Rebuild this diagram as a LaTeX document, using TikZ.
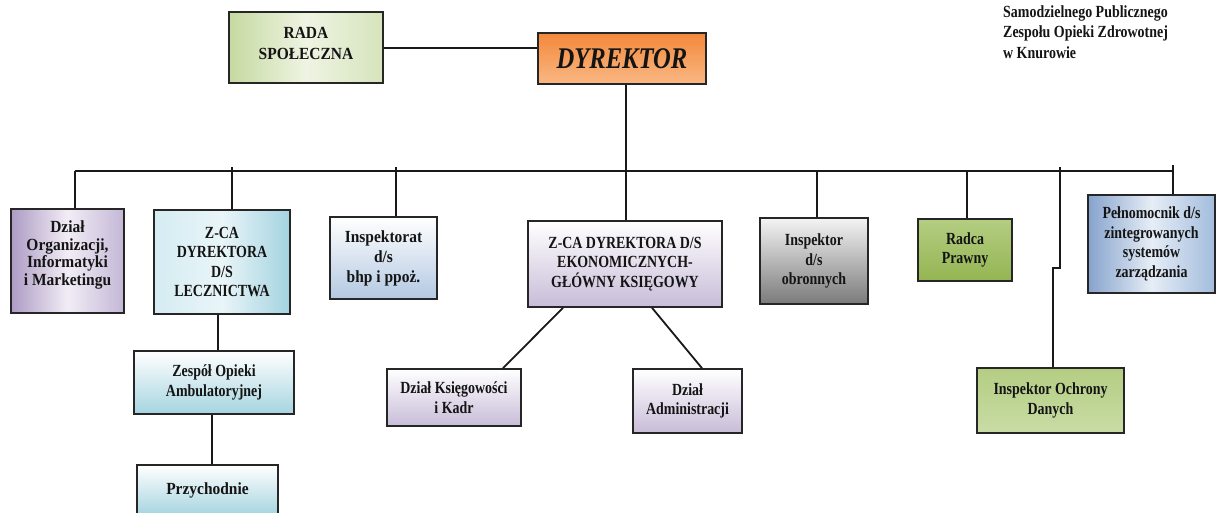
\documentclass[tikz,border=0pt]{standalone}
\usepackage{fontspec}
\setmainfont{Liberation Serif}[FakeStretch=0.82]
\newfontfamily\widefont{Liberation Serif}[FakeStretch=0.91]
\definecolor{radaL}{HTML}{C6D9A0}
\definecolor{radaM}{HTML}{EEF4E2}
\definecolor{radaR}{HTML}{D6E4BC}
\definecolor{dyrT}{HTML}{F3883A}
\definecolor{dyrB}{HTML}{F9B884}
\definecolor{purD}{HTML}{AD9BC4}
\definecolor{purM}{HTML}{F1EDF5}
\definecolor{purR}{HTML}{C4B7D6}
\definecolor{cyanL}{HTML}{D4ECF2}
\definecolor{cyanM}{HTML}{E9F5F8}
\definecolor{cyanR}{HTML}{A3D3E0}
\definecolor{bluegB}{HTML}{B3C8E2}
\definecolor{lavB}{HTML}{C8BCD8}
\definecolor{grayB}{HTML}{7A7A7A}
\definecolor{grayT}{HTML}{F4F4F4}
\definecolor{grnT}{HTML}{B4CD82}
\definecolor{grnB}{HTML}{94B552}
\definecolor{grnM}{HTML}{9EBE5C}
\definecolor{grnL}{HTML}{C9DCA6}
\definecolor{pbL}{HTML}{86A3CC}
\definecolor{pbM}{HTML}{E6EDF6}
\definecolor{pbR}{HTML}{A2BCDD}
\definecolor{ambB}{HTML}{A6D4E0}
\begin{document}
\begin{tikzpicture}[x=1pt,y=-1pt,
  box/.style={draw=black!85, line width=1.6pt, rectangle, inner sep=0pt,
    align=center, text=black!92,
    font=\bfseries\fontsize{17}{19.5}\selectfont},
  widebox/.style={box, font=\widefont\bfseries\fontsize{17}{20}\selectfont},
  wire/.style={line width=1.8pt, draw=black!90},
  buswire/.style={line width=2.4pt, draw=black!90}]
\useasboundingbox (0,0) rectangle (1216,512);
\clip (0,0) rectangle (1216,512);
\fill[white] (0,0) rectangle (1216,512);

% header text
\node[anchor=north west, align=left, inner sep=0pt, text=black!92,
  font=\bfseries\fontsize{17}{20.5}\selectfont] (hdr) at (1003,5.5)
  {Samodzielnego Publicznego\\Zespołu Opieki Zdrowotnej\\w Knurowie};

% boxes
\node[widebox, minimum width=154, minimum height=71,
  left color=radaL, right color=radaR, middle color=radaM] (rada) at (306,47.5)
  {\parbox[c][71pt][t]{154pt}{\centering\lineskiplimit=-10pt\vspace*{15pt}RADA\\[1.5pt]SPOŁECZNA}};
\node[box, minimum width=168, minimum height=51,
  top color=dyrT, bottom color=dyrB,
  font=\bfseries\itshape\fontsize{30}{34}\selectfont] (dyr) at (622,58.5) {DYREKTOR};

\node[widebox, minimum width=113, minimum height=104,
  left color=purD, right color=purR, middle color=purM,
  font=\widefont\bfseries\fontsize{17}{17.5}\selectfont] (org) at (67.5,261)
  {\parbox[c][104pt][t]{113pt}{\centering\lineskiplimit=-10pt\vspace*{12pt}Dział\\Organizacji,\\Informatyki\\i Marketingu}};
\node[box, minimum width=136, minimum height=104,
  left color=cyanL, right color=cyanR, middle color=cyanM] (lecz) at (222,262)
  {Z-CA\\DYREKTORA\\D/S\\LECZNICTWA};
\node[widebox, minimum width=107, minimum height=82,
  top color=white, bottom color=bluegB] (bhp) at (383.5,258)
  {Inspektorat\\d/s\\bhp i ppoż.};
\node[box, minimum width=194, minimum height=86,
  top color=white, bottom color=lavB] (ekon) at (625,264)
  {Z-CA DYREKTORA D/S\\EKONOMICZNYCH-\\GŁÓWNY KSIĘGOWY};
\node[box, minimum width=108, minimum height=86,
  top color=grayT, bottom color=grayB] (obr) at (814,261)
  {Inspektor\\d/s\\obronnych};
\node[box, minimum width=94, minimum height=62,
  top color=grnT, bottom color=grnB] (radca) at (965,250)
  {Radca\\Prawny};
\node[box, minimum width=127, minimum height=98,
  left color=pbL, right color=pbR, middle color=pbM] (pelnom) at (1151.5,244)
  {Pełnomocnik d/s\\zintegrowanych\\systemów\\zarządzania};

\node[box, minimum width=160, minimum height=63,
  top color=white, bottom color=ambB] (zespol) at (214,382.5)
  {Zespół Opieki\\Ambulatoryjnej};
\node[widebox, minimum width=141, minimum height=50,
  top color=white, bottom color=ambB] (przych) at (207.5,490)
  {Przychodnie};

\node[box, minimum width=134, minimum height=57,
  top color=white, bottom color=lavB] (ksieg) at (454,397.5)
  {Dział Księgowości\\i Kadr};
\node[box, minimum width=109, minimum height=64,
  top color=white, bottom color=lavB] (admin) at (687.5,401)
  {Dział\\Administracji};

\node[box, minimum width=147, minimum height=65,
  top color=grnT, middle color=grnM, bottom color=grnL] (iod) at (1050.5,400.5)
  {Inspektor Ochrony\\Danych};

% bus
\coordinate (bL) at (75,171);
\coordinate (bR) at (1173,171);
\coordinate (tLecz) at (232,167);
\coordinate (tBhp) at (396,167);
\coordinate (tObr) at (817,171);
\coordinate (tRad) at (967,171);
\coordinate (tIod) at (1060,167);
\coordinate (kIod) at (1060,268);
\coordinate (tPel) at (1173,165);

\draw[buswire] (bL) -- (bR);
\draw[wire, line width=2pt] (rada.east) -- (rada.east -| dyr.west);
\draw[buswire] ([xshift=4]dyr.south) -- ([xshift=4]dyr.south |- ekon.north);
\draw[wire] (bL) -- (bL |- org.north);
\draw[wire] (tLecz) -- (tLecz |- lecz.north);
\draw[wire] (tBhp) -- (tBhp |- bhp.north);
\draw[wire] (tObr) -- (tObr |- obr.north);
\draw[wire] (tRad) -- (tRad |- radca.north);
\draw[wire] (tPel) -- (tPel |- pelnom.north);
\draw[wire] (tIod) -- (kIod) -- ([xshift=-7]kIod) -- ([xshift=-7]kIod |- iod.north);

\draw[wire] ([xshift=-4]lecz.south) -- ([xshift=-4]lecz.south |- zespol.north);
\draw[wire] ([xshift=-2]zespol.south) -- ([xshift=-2]zespol.south |- przych.north);

\draw[wire] ([xshift=-62]ekon.south) -- ([xshift=49]ksieg.north);
\draw[wire] ([xshift=27]ekon.south) -- ([xshift=14.5]admin.north);
\end{tikzpicture}
\end{document}
